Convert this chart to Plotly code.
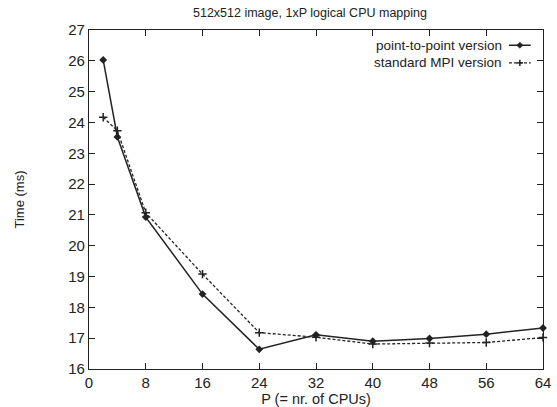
import plotly.graph_objects as go

# Number of CPUs
cpus = [2, 4, 8, 16, 24, 32, 40, 48, 56, 64]

# Execution time (ms) for each communication variant
time_p2p = [26.03, 23.53, 20.93, 18.43, 16.64, 17.11, 16.90, 16.99, 17.13, 17.33]
time_mpi = [24.17, 23.73, 21.07, 19.08, 17.18, 17.03, 16.81, 16.84, 16.86, 17.02]

series_names = ["point-to-point version", "standard MPI version"]
x_ticks = [0, 8, 16, 24, 32, 40, 48, 56, 64]
y_ticks = list(range(16, 28))

ink = "#222222"
font_family = "Liberation Sans, Arial, Helvetica, sans-serif"

fig = go.Figure()

fig.add_trace(go.Scatter(
    x=cpus, y=time_p2p, mode="lines+markers", name=series_names[0],
    line=dict(color=ink, width=1.5, dash="solid"),
    marker=dict(symbol="diamond", size=6, color=ink),
    showlegend=False, cliponaxis=False,
))
fig.add_trace(go.Scatter(
    x=cpus, y=time_mpi, mode="lines+markers", name=series_names[1],
    line=dict(color=ink, width=1.3, dash="3px,2px"),
    marker=dict(symbol="cross-thin", size=6, color=ink, line=dict(color=ink, width=1.5)),
    showlegend=False, cliponaxis=False,
))

axis_common = dict(
    showgrid=False, zeroline=False, showline=True, linecolor=ink, linewidth=1.3,
    mirror="ticks", ticks="inside", ticklen=6, tickcolor=ink, tickwidth=1,
    tickfont=dict(family=font_family, size=15, color=ink),
    ticklabeloverflow="allow",
)

fig.update_xaxes(
    range=[0, 64], tickvals=x_ticks, **axis_common,
    title=dict(text="P (= nr. of CPUs)", font=dict(family=font_family, size=14.5, color=ink), standoff=0),
)
fig.update_yaxes(
    range=[16, 27], tickvals=y_ticks, **axis_common,
    title=dict(text="Time (ms)", font=dict(family=font_family, size=13, color=ink), standoff=40),
)

# Key drawn gnuplot-style: label text on the left, line sample on the right
key_rows = [0.955, 0.903]
sample_x0, sample_x1 = 0.925, 0.973
shapes = []
annotations = []
for i, (name, yrow) in enumerate(zip(series_names, key_rows)):
    annotations.append(dict(
        x=0.915, y=yrow, xref="paper", yref="paper", text=name, showarrow=False,
        xanchor="right", yanchor="middle", font=dict(family=font_family, size=13.5, color=ink),
    ))
    shapes.append(dict(
        type="line", xref="paper", yref="paper", x0=sample_x0, x1=sample_x1, y0=yrow, y1=yrow,
        line=dict(color=ink, width=1.5 if i == 0 else 1.3, dash="solid" if i == 0 else "3px,2px"),
    ))

xc = (sample_x0 + sample_x1) / 2
dx, dy = 0.007, 0.009
shapes.append(dict(
    type="path", xref="paper", yref="paper",
    path=f"M {xc - dx} {key_rows[0]} L {xc} {key_rows[0] + dy} L {xc + dx} {key_rows[0]} L {xc} {key_rows[0] - dy} Z",
    fillcolor=ink, line=dict(color=ink, width=0.5),
))
shapes.append(dict(type="line", xref="paper", yref="paper", x0=xc - dx, x1=xc + dx,
                   y0=key_rows[1], y1=key_rows[1], line=dict(color=ink, width=1.5)))
shapes.append(dict(type="line", xref="paper", yref="paper", x0=xc, x1=xc,
                   y0=key_rows[1] - dy, y1=key_rows[1] + dy, line=dict(color=ink, width=1.5)))

annotations.append(dict(
    x=0.487, y=1.0, xref="paper", yref="paper", yshift=17, text="512x512 image, 1xP logical CPU mapping",
    showarrow=False, xanchor="center", yanchor="middle", font=dict(family=font_family, size=12.5, color=ink),
))

fig.update_layout(
    width=557, height=407,
    margin=dict(l=89, r=6, t=30, b=37),
    paper_bgcolor="white", plot_bgcolor="white",
    shapes=shapes, annotations=annotations,
)

fig.write_html("out.html")
